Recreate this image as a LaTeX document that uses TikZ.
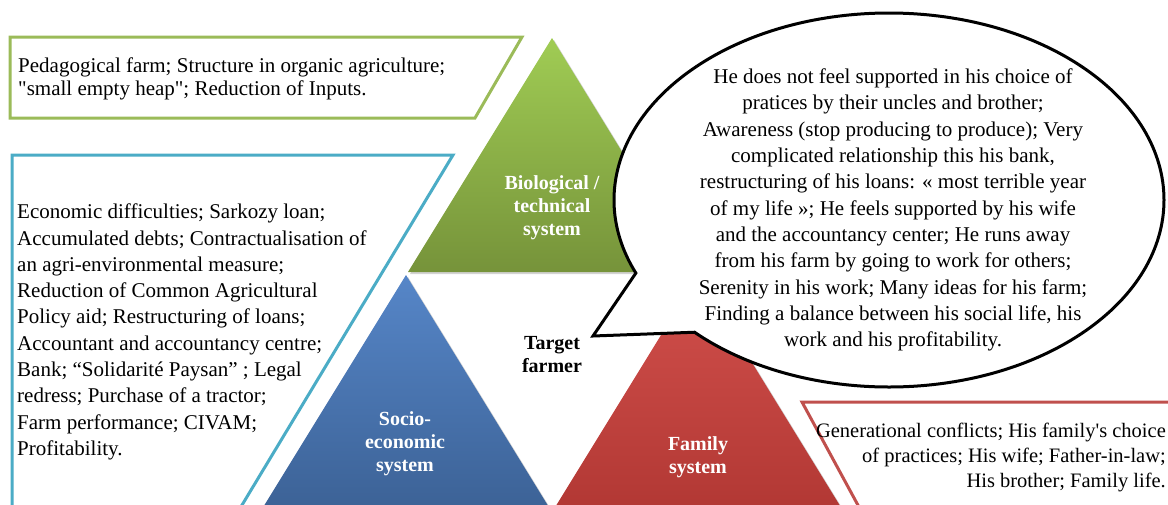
\documentclass[tikz,border=0pt]{standalone}
\usepackage{fontspec}
\setmainfont{Liberation Serif}
\usetikzlibrary{shadows}

\definecolor{biogreen}{HTML}{9BBB59}
\definecolor{sociocyan}{HTML}{4BACC6}
\definecolor{famred}{HTML}{C0504D}
\definecolor{biotop}{RGB}{160,204,84}
\definecolor{biobottom}{RGB}{118,147,58}
\definecolor{sociotop}{RGB}{86,134,200}
\definecolor{sociobottom}{RGB}{60,98,150}
\definecolor{famtop}{RGB}{210,80,76}
\definecolor{fambottom}{RGB}{178,56,52}

\begin{document}
\begin{tikzpicture}[
    x=1pt, y=1pt,
    every node/.style={inner sep=0pt},
    bodytext/.style={font=\fontsize{21}{23.7}\selectfont, align=left},
    syslabel/.style={text=white, font=\bfseries\fontsize{20}{23}\selectfont, align=center},
    textframe/.style={line width=3pt, fill=white},
    systri/.style={drop shadow={opacity=0.35, shadow xshift=2pt, shadow yshift=-2pt}},
    bubble/.style={draw=black, line width=3pt, fill=white, line join=miter}
]
\useasboundingbox (0,0) rectangle (1168,-504);
\clip (0,0) rectangle (1168,-504);

% Frames around the descriptions
\draw[textframe, draw=biogreen] (10,-37) -- (522,-37) -- (475,-118) -- (10,-118) -- cycle;
\draw[textframe, draw=sociocyan] (12,-520) -- (12,-155) -- (453,-155) -- (233,-520);
\draw[textframe, draw=famred] (1190,-402) -- (802,-402) -- (866,-520);

% Triangles
\path[systri, top color=biotop, bottom color=biobottom]
    (552,-38) -- (696,-272) -- (408,-272) -- cycle;
\path[systri, top color=sociotop, bottom color=sociobottom]
    (406,-275) -- (550,-509) -- (262,-509) -- cycle;
\path[systri, top color=famtop, bottom color=fambottom]
    (698,-275) -- (842,-509) -- (554,-509) -- cycle;

% Speech bubble
\coordinate (tip) at (593,-336);
\draw[bubble] (889,-200) ++(225:275 and 187)
    arc[start angle=225, end angle=563, x radius=275, y radius=187] -- (tip) -- cycle;

% Texts
\node[bodytext, anchor=west] (bio text) at (18,-79)
    {Pedagogical farm; Structure in organic agriculture;\\
     \textquotedbl small empty heap\textquotedbl; Reduction of Inputs.};
\node[bodytext, anchor=west, font=\fontsize{21}{26.3}\selectfont] (socio text) at (17,-332)
    {Economic difficulties; Sarkozy loan;\\
     Accumulated debts; Contractualisation of\\
     an agri-environmental measure;\\
     Reduction of Common Agricultural\\
     Policy aid; Restructuring of loans;\\
     Accountant and accountancy centre;\\
     Bank; “Solidarité Paysan” ; Legal\\
     redress; Purchase of a tractor;\\
     Farm performance; CIVAM;\\
     Profitability.};
\node[bodytext, align=center, font=\fontsize{21}{26.3}\selectfont] (farmer text) at (893,-210)
    {He does not feel supported in his choice of\\
     pratices by their uncles and brother;\\
     Awareness (stop producing to produce); Very\\
     complicated relationship this his bank,\\
     restructuring of his loans: « most terrible year\\
     of my life »; He feels supported by his wife\\
     and the accountancy center; He runs away\\
     from his farm by going to work for others;\\
     Serenity in his work; Many ideas for his farm;\\
     Finding a balance between his social life, his\\
     work and his profitability.};
\node[bodytext, align=right, anchor=east, font=\fontsize{20.5}{25}\selectfont] (family text) at (1166,-457)
    {Generational conflicts; His family\textquotesingle s choice\\
     of practices; His wife; Father-in-law;\\
     His brother; Family life.};

% System labels
\node[syslabel] (bio) at (552,-208) {Biological /\\technical\\system};
\node[syslabel] (socio) at (405,-444) {Socio-\\economic\\system};
\node[syslabel] (family) at (698,-457) {Family\\system};
\node[syslabel, text=black] (farmer) at (552,-355) {Target\\farmer};

\end{tikzpicture}
\end{document}
